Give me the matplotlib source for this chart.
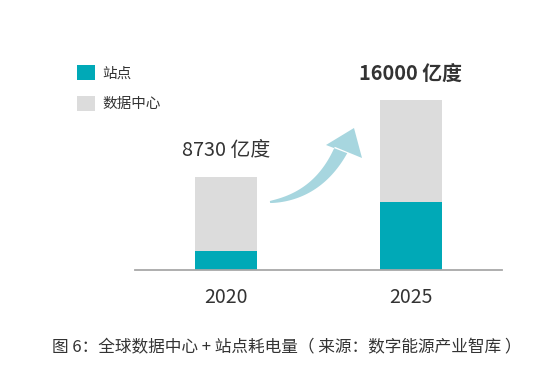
import numpy as np
import matplotlib.pyplot as plt
from matplotlib.patches import Patch, Polygon

plt.rcParams['font.family'] = ['Noto Sans CJK SC', 'DejaVu Sans']

# ── data ──────────────────────────────────────────────
years = ['2020', '2025']
site = [1800, 6400]          # 站点
datacenter = [6930, 9600]    # 数据中心
totals = ['8730 亿度', '16000 亿度']

TEAL = '#00a9b7'
GREY = '#dcdcdc'
TXT = '#333333'

W, H = 550, 376
fig = plt.figure(figsize=(W / 100, H / 100), dpi=100)

# axes placed in pixel terms
left, right, bottom, top = 135, 502, 270, 60
ax = fig.add_axes([left / W, (H - bottom) / H, (right - left) / W, (bottom - top) / H])

x = np.arange(len(years))
ax.bar(x, site, width=0.33, color=TEAL, zorder=2)
ax.bar(x, datacenter, bottom=site, width=0.33, color=GREY, zorder=2)

ax.set_xlim(-0.492, 1.492)
ax.set_ylim(0, 19800)
for s in ['top', 'right', 'left']:
    ax.spines[s].set_visible(False)
ax.spines['bottom'].set_color('#a8a8a8')
ax.spines['bottom'].set_linewidth(1.3)
ax.set_yticks([])
ax.set_xticks(x)
ax.set_xticklabels(years, fontsize=14, color=TXT)
ax.tick_params(axis='x', length=0, pad=12)

# total labels
ax.text(0, site[0] + datacenter[0] + 1500, totals[0], ha='center', va='bottom',
        fontsize=14.3, color=TXT)
ax.text(1, site[1] + datacenter[1] + 1500, totals[1], ha='center', va='bottom',
        fontsize=14.3, color=TXT, fontweight='bold')

# curved tapered arrow (figure pixel coords, y from top)
t = np.linspace(0, 1, 40)
p0, pc, p1 = np.array([270, 202]), np.array([318, 196]), np.array([341, 150])
cen = ((1 - t)**2)[:, None] * p0 + (2 * (1 - t) * t)[:, None] * pc + (t**2)[:, None] * p1
d = np.gradient(cen, axis=0)
nrm = np.stack([-d[:, 1], d[:, 0]], axis=1)
nrm /= np.linalg.norm(nrm, axis=1)[:, None]
wid = 1 + 6 * t**0.8
side_a = cen + nrm * wid[:, None]
side_b = cen - nrm * wid[:, None]
tip = np.array([354, 128])
head = [np.array([326, 145]), tip, np.array([362, 158])]
pts = np.vstack([side_a, head, side_b[::-1]])
pts_fig = np.column_stack([pts[:, 0] / W, (H - pts[:, 1]) / H])
fig.patches.append(Polygon(pts_fig, closed=True, transform=fig.transFigure,
                           facecolor='#a7d6df', edgecolor='none'))

# legend
handles = [Patch(facecolor=TEAL, edgecolor='none', label='站点'),
           Patch(facecolor=GREY, edgecolor='none', label='数据中心')]
fig.legend(handles=handles, loc='upper left', bbox_to_anchor=(64 / W, 1 - 52 / H),
           frameon=False, fontsize=10.5, handlelength=1.2, handleheight=1.2,
           labelspacing=1.05, handletextpad=0.55, labelcolor=TXT)

fig.text(287 / W, 1 - 348 / H, '图 6：全球数据中心 + 站点耗电量（ 来源：数字能源产业智库 ）',
         ha='center', va='center', fontsize=12, color=TXT)

fig.savefig('out.png', dpi=100)
